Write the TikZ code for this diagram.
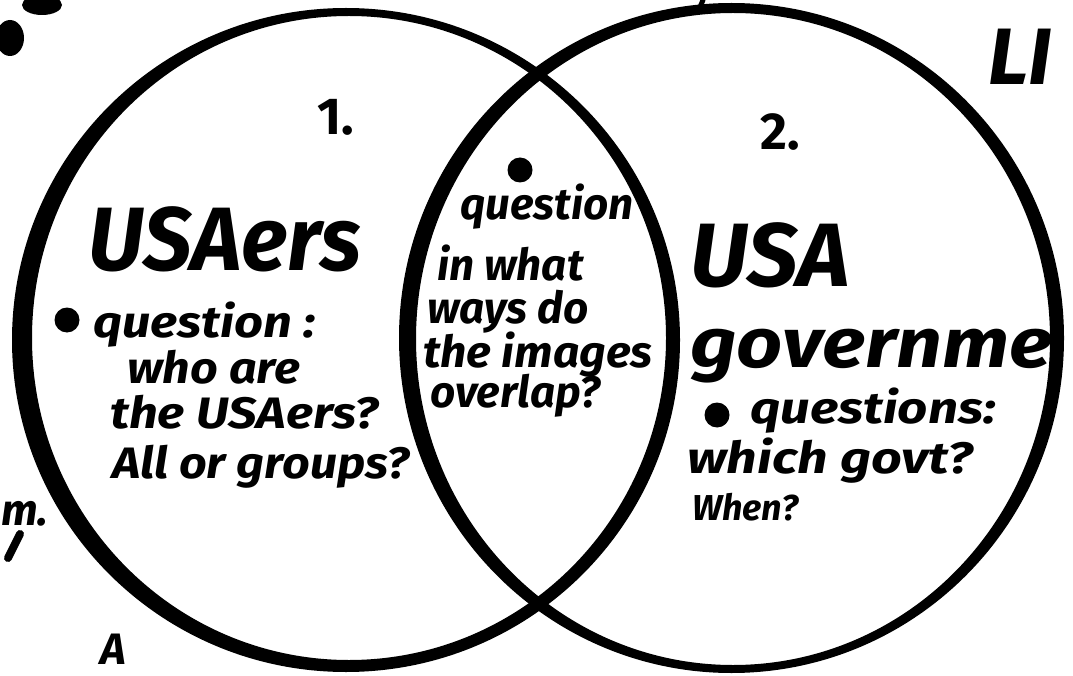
\documentclass[tikz,border=0pt]{standalone}
\usepackage{graphicx}
\usepackage{fontspec}
\newfontfamily\handfont{Fira Sans}
\usetikzlibrary{positioning}

\begin{document}
\begin{tikzpicture}[x=1pt, y=-1pt,
    hand/.style={inner sep=0pt, anchor=base west},
    bodytext/.style={hand, font=\handfont\bfseries\itshape\fontsize{44}{47}\selectfont},
    headtext/.style={hand, font=\handfont\bfseries\itshape\fontsize{90}{90}\selectfont},
    numtext/.style={hand, font=\handfont\bfseries\fontsize{52}{52}\selectfont},
    bulletdot/.style={circle, fill, inner sep=0pt, minimum size=25pt}]
    \useasboundingbox (0,0) rectangle (1073,676);
    \fill[white] (0,0) rectangle (1073,676);

    \fill[even odd rule] (346,340) ellipse [x radius=334pt, y radius=332pt]
                         (349,338) ellipse [x radius=317pt, y radius=322pt];
    \fill[even odd rule] (731.5,338) ellipse [x radius=332.5pt, y radius=335pt]
                         (733,339) ellipse [x radius=317pt, y radius=326pt];

    \node[numtext] (one) at (317,135) {1.};
    \node[numtext] (two) at (760,150) {2.};

    \node[headtext] (usaers) at (88,270) {\scalebox{0.96}[1]{USAers}};
    \node[bulletdot] (dotleft) at (67,320) {};
    \node[bodytext] (qleft) at (93,337) {\scalebox{1.15}[1]{question :}};
    \node[bodytext] (whoare) at (127,383) {\scalebox{1.1}[1]{who are}};
    \node[bodytext] (theusaers) at (110,428) {\scalebox{1.15}[1]{the USAers?}};
    \node[bodytext] (allor) at (112,478) {\scalebox{1.1}[1]{All or groups?}};

    \node[bulletdot] (dotmid) at (520,170) {};
    \node[bodytext] (qmid) at (460,220) {question};
    \node[bodytext] (inwhat) at (437,280) {in what};
    \node[bodytext] (waysdo) at (427,323) {ways do};
    \node[bodytext] (images) at (423,367) {\scalebox{1.05}[1]{the images}};
    \node[bodytext] (overlap) at (430,407) {overlap?};

    \node[headtext] (usa) at (690,287) {USA};
    \node[headtext, font=\handfont\bfseries\itshape\fontsize{70}{70}\selectfont] (govt) at (690,367) {\scalebox{1.15}[1]{governme}};
    \node[bulletdot] (dotright) at (717,415) {};
    \node[bodytext] (qright) at (750,423) {\scalebox{1.2}[1]{questions:}};
    \node[bodytext] (which) at (687,473) {\scalebox{1.22}[1]{which govt?}};
    \node[bodytext, font=\handfont\bfseries\itshape\fontsize{36}{36}\selectfont] (when) at (692,520) {When?};

    \node[headtext, font=\handfont\bfseries\itshape\fontsize{80}{80}\selectfont] (li) at (988,85) {LI};
    \node[bodytext] (mfrag) at (1,525) {m.};
    \node[bodytext] (afrag) at (100,664) {A};

    \fill (10,38) ellipse [x radius=14pt, y radius=18pt];
    \fill (42,5) ellipse [x radius=20pt, y radius=10pt];
    \draw[line width=8pt, line cap=round] (20,534) -- (8,558);
    \draw[line width=5pt, line cap=round] (703,0) -- (698,12);
\end{tikzpicture}
\end{document}
